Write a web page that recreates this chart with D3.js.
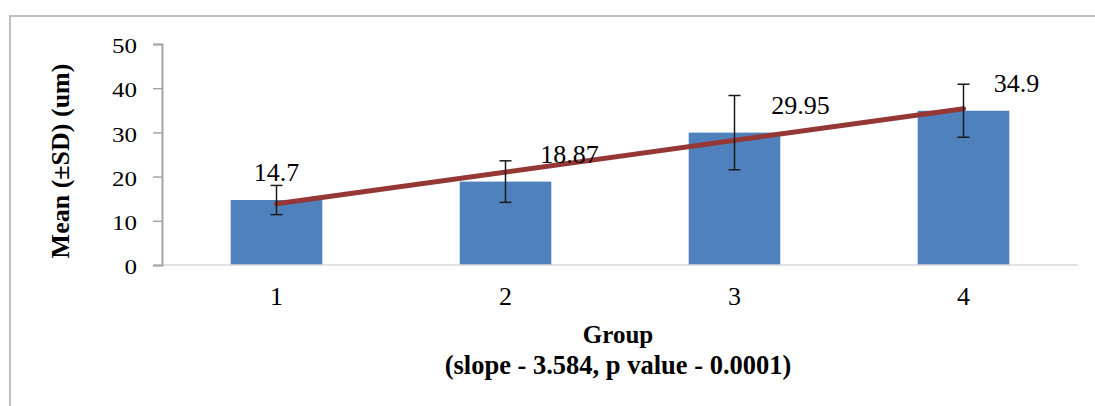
<!DOCTYPE html>
<html>
<head>
<meta charset="utf-8">
<script src="https://cdn.jsdelivr.net/npm/d3@7"></script>
<style>
  html, body { margin: 0; padding: 0; background: #fff; }
  svg { display: block; }
  text { font-family: "Liberation Serif", "Times New Roman", serif; fill: #000; }
</style>
</head>
<body>
<svg id="chart" width="1095" height="406"></svg>
<script>
// ---- data ----
const groups = ["1", "2", "3", "4"];
const means = [14.7, 18.87, 29.95, 34.9];
const sds = [3.3, 4.7, 8.4, 6.0];
const meanLabels = ["14.7", "18.87", "29.95", "34.9"];
const yTicks = [0, 10, 20, 30, 40, 50];
const trendGroups = ["1", "4"];
const trendValues = [13.85, 35.36];
const xTitle = "Group";
const xSubtitle = "(slope - 3.584, p value - 0.0001)";
const yTitle = "Mean (\u00B1SD) (um)";

// ---- layout (not data) ----
const labelDx = [0, 64, 66, 53];

(function () {
const svg = d3.select("#chart");
const W = 1095, H = 406;
const mLeft = 162, mRight = 1078, mTop = 44, mBottom = 265;

// frame
svg.append("path")
  .attr("d", `M10,${H} L10,16 L${W},16`)
  .attr("fill", "none").attr("stroke", "#bfbfbf").attr("stroke-width", 2);

const x = d3.scaleBand().domain(groups).range([mLeft, mRight]).paddingInner(0.6).paddingOuter(0.3);
const y = d3.scaleLinear().domain([0, 50]).range([mBottom, mTop]);

// bars
svg.append("g").selectAll("rect").data(groups).join("rect")
  .attr("x", d => x(d))
  .attr("y", (d, i) => y(means[i]))
  .attr("width", x.bandwidth())
  .attr("height", (d, i) => y(0) - y(means[i]))
  .attr("fill", "#4f81bd");

// x baseline
svg.append("line")
  .attr("x1", mLeft).attr("x2", mRight)
  .attr("y1", y(0)).attr("y2", y(0))
  .attr("stroke", "#d9d9d9").attr("stroke-width", 1.5);

// y axis
const sx = 1.22;
const yAxis = d3.axisLeft(y).tickValues(yTicks).tickSize(9).tickPadding(6).tickFormat(d3.format("d"));
const yg = svg.append("g").attr("transform", `translate(${mLeft},0)`).call(yAxis);
yg.select(".domain").attr("stroke", "#a6a6a6").attr("stroke-width", 2);
yg.selectAll(".tick line").attr("stroke", "#a6a6a6").attr("stroke-width", 1.5);
yg.selectAll(".tick text")
  .attr("font-size", 20.5)
  .attr("font-family", '"Liberation Serif", serif')
  .attr("fill", "#000")
  .attr("dy", "0.42em")
  .attr("transform", `scale(${sx},1)`)
  .attr("x", -25 / sx);

// x axis labels
const xAxis = d3.axisBottom(x).tickSize(0).tickPadding(22);
const xg = svg.append("g").attr("transform", `translate(0,${mBottom})`).call(xAxis);
xg.select(".domain").remove();
xg.selectAll(".tick text")
  .attr("font-size", 26)
  .attr("font-family", '"Liberation Serif", serif')
  .attr("fill", "#000");

// trend line
const cx = d => x(d) + x.bandwidth() / 2;
svg.append("path")
  .datum(trendGroups.map((g, i) => [cx(g), y(trendValues[i])]))
  .attr("d", d3.line())
  .attr("fill", "none").attr("stroke", "#953735").attr("stroke-width", 5)
  .attr("stroke-linecap", "round");

// error bars
const eg = svg.append("g").attr("stroke", "#1a1a1a").attr("stroke-width", 1.5);
groups.forEach((g, i) => {
  const c = cx(g);
  const hi = y(means[i] + sds[i]), lo = y(means[i] - sds[i]);
  eg.append("line").attr("x1", c).attr("x2", c).attr("y1", hi).attr("y2", lo);
  eg.append("line").attr("x1", c - 6).attr("x2", c + 6).attr("y1", hi).attr("y2", hi);
  eg.append("line").attr("x1", c - 6).attr("x2", c + 6).attr("y1", lo).attr("y2", lo);
});

// data labels
svg.append("g").selectAll("text").data(groups).join("text")
  .attr("x", (d, i) => cx(d) + labelDx[i])
  .attr("y", (d, i) => y(means[i]) - 19)
  .attr("text-anchor", "middle")
  .attr("font-size", 26)
  .text((d, i) => meanLabels[i]);

// axis titles
svg.append("text").attr("x", 618).attr("y", 343).attr("text-anchor", "middle")
  .attr("font-size", 25).attr("font-weight", "bold").text(xTitle);
svg.append("text").attr("x", 618).attr("y", 374).attr("text-anchor", "middle")
  .attr("font-size", 26.5).attr("font-weight", "bold").text(xSubtitle);

svg.append("text")
  .attr("transform", `translate(69,161) rotate(-90)`)
  .attr("text-anchor", "middle")
  .attr("font-size", 26).attr("font-weight", "bold").text(yTitle);
})();
</script>
</body>
</html>
